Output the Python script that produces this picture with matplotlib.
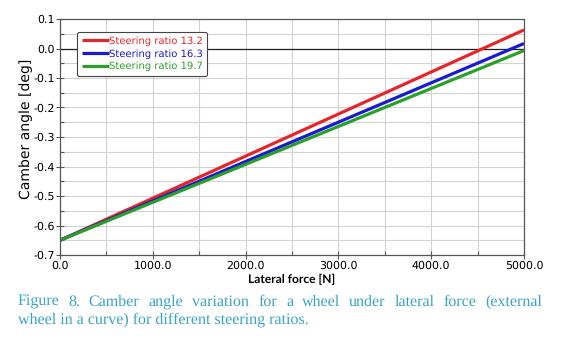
import numpy as np
import matplotlib
matplotlib.use('Agg')
import matplotlib.pyplot as plt
from matplotlib.ticker import MultipleLocator, FormatStrFormatter
from matplotlib.textpath import TextPath
from matplotlib.font_manager import FontProperties

# lateral force [N] and camber angle [deg] at both ends of each sweep
force = [0.0, 5000.0]
camber_13_2 = [-0.650, 0.063]
camber_16_3 = [-0.650, 0.017]
camber_19_7 = [-0.650, -0.007]

labels = ["Steering ratio 13.2", "Steering ratio 16.3", "Steering ratio 19.7"]
colors = ["#e3262a", "#1a1ad0", "#2aa02a"]

caption_1 = "Figure 8. Camber angle variation for a wheel under lateral force (external"
caption_2 = "wheel in a curve) for different steering ratios."
cap_color = '#3aa3c4'

# keep rendered glyph advances equal to the layout widths
plt.rcParams['text.hinting'] = 'no_hinting'
plt.rcParams['text.hinting_factor'] = 1

W, H = 563, 341
fig = plt.figure(figsize=(W / 100, H / 100), dpi=100)
ax = fig.add_axes([60 / W, 1 - 255 / H, 464 / W, 236 / H])

for ys, lab, c in zip([camber_13_2, camber_16_3, camber_19_7], labels, colors):
    ax.plot(force, ys, color=c, lw=2.3, label=lab, solid_capstyle='butt')

ax.axhline(0.0, color='#222222', lw=0.9, zorder=1)

ax.set_xlim(0, 5000)
ax.set_ylim(-0.7, 0.1)
ax.xaxis.set_major_locator(MultipleLocator(1000))
ax.xaxis.set_minor_locator(MultipleLocator(500))
ax.yaxis.set_major_locator(MultipleLocator(0.1))
ax.yaxis.set_minor_locator(MultipleLocator(0.05))
ax.xaxis.set_major_formatter(FormatStrFormatter('%.1f'))
ax.yaxis.set_major_formatter(FormatStrFormatter('%.1f'))
ax.grid(True, which='both', color='#d2d2d2', lw=0.8, zorder=0)
ax.set_axisbelow(True)
ax.tick_params(which='major', direction='inout', length=6, width=0.8,
               color='#555555', labelsize=8, pad=1)
ax.tick_params(which='minor', direction='in', length=3, width=0.8, color='#555555')
for s in ax.spines.values():
    s.set_color('#555555')
    s.set_linewidth(0.9)

ax.set_xlabel("Lateral force [N]", family='Lato', fontsize=8.4, fontweight='bold',
              labelpad=2)
ax.set_ylabel("Camber angle [deg]", fontsize=10)
ax.yaxis.set_label_coords(-27 / 464, 0.535)

leg = ax.legend(loc='upper left', bbox_to_anchor=(0.037, 0.947), fontsize=7.5,
                handlelength=2.6, handletextpad=0.0, borderpad=0.45,
                borderaxespad=0, labelspacing=0.3, framealpha=1,
                edgecolor='#444444')
leg.get_frame().set_linewidth(0.8)
for t, c in zip(leg.get_texts(), colors):
    t.set_color(c)

# first caption line is justified across the full width
x0, x1 = 18, 543
cap_fs = 11.7
cap_font = FontProperties(family='Liberation Serif', size=cap_fs)
words = caption_1.split()
widths = [TextPath((0, 0), w, size=cap_fs * 100 / 72, prop=cap_font).get_extents().x1
          for w in words]
gap = (x1 - x0 - sum(widths)) / (len(words) - 1)
x = x0
for w, wd in zip(words, widths):
    fig.text(x / W, 1 - 302 / H, w, fontproperties=cap_font, color=cap_color,
             va='center')
    x += wd + gap

fig.text(x0 / W, 1 - 320 / H, caption_2, fontproperties=cap_font,
         color=cap_color, va='center')

fig.savefig('out.png', dpi=100)
